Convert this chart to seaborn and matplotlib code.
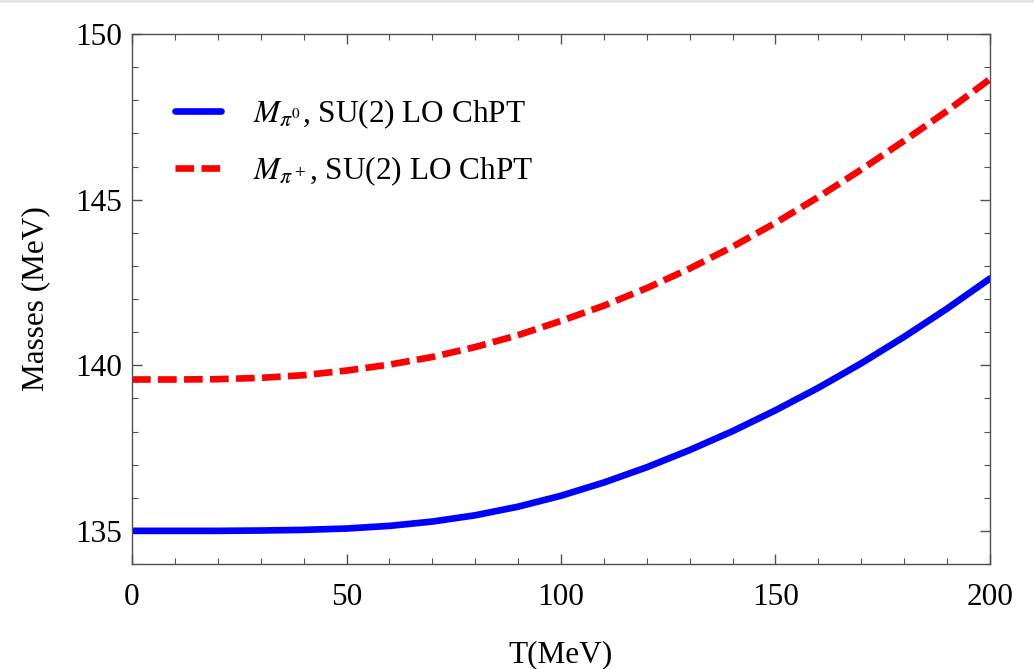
import numpy as np
import pandas as pd
import matplotlib
matplotlib.use("Agg")
import matplotlib.pyplot as plt
from matplotlib.ticker import MultipleLocator
from matplotlib.patches import Rectangle
import seaborn as sns

# temperature grid (MeV) and masses (MeV)
T = [0, 10, 20, 30, 40, 50, 60, 70, 80, 90, 100,
     110, 120, 130, 140, 150, 160, 170, 180, 190, 200]
m_pi0 = [135.00, 135.00, 135.00, 135.01, 135.03, 135.07, 135.15, 135.28, 135.47, 135.73, 136.06,
         136.46, 136.92, 137.44, 138.01, 138.64, 139.32, 140.06, 140.86, 141.71, 142.62]
m_pipm = [139.57, 139.57, 139.58, 139.62, 139.70, 139.84, 140.02, 140.25, 140.55, 140.91, 141.34,
          141.80, 142.33, 142.92, 143.58, 144.30, 145.08, 145.91, 146.78, 147.68, 148.64]

label0 = r"$M_{\pi^0}$, SU(2) LO ChPT"
label_pm = r"$M_{\pi^+}$, SU(2) LO ChPT"

sns.set_theme(style="ticks")
plt.rcParams['font.family'] = ['Liberation Serif', 'DejaVu Serif']
plt.rcParams['mathtext.fontset'] = 'stix'
plt.rcParams['text.color'] = 'black'
plt.rcParams['axes.labelcolor'] = 'black'

df = pd.DataFrame({"T": T, "m0": m_pi0, "mpm": m_pipm})

fig = plt.figure(figsize=(10.34, 6.69), dpi=100)
ax = fig.add_axes([0.1277, 0.157, 0.8297, 0.792])

sns.lineplot(data=df, x="T", y="m0", ax=ax, color=(0, 0, 1), linewidth=4.8,
             label=label0, solid_capstyle="round")
sns.lineplot(data=df, x="T", y="mpm", ax=ax, color=(1, 0, 0), linewidth=4.8,
             linestyle=(0, (2.8, 1.1)), label=label_pm)

ax.set_xlim(0, 200)
ax.set_ylim(134.0, 150)
ax.xaxis.set_major_locator(MultipleLocator(50))
ax.xaxis.set_minor_locator(MultipleLocator(10))
ax.yaxis.set_major_locator(MultipleLocator(5))
ax.yaxis.set_minor_locator(MultipleLocator(1))

edge = "#505050"
for s in ax.spines.values():
    s.set_visible(True)
    s.set_color(edge)
    s.set_linewidth(1.0)
ax.tick_params(which="both", direction="in", top=True, right=True, color=edge,
               labelsize=22.5, labelcolor="black")
ax.tick_params(which="major", length=7, width=1.0)
ax.tick_params(which="minor", length=4.5, width=0.8)
ax.tick_params(axis="x", which="major", pad=14)
ax.tick_params(axis="y", which="major", pad=7)

ax.set_xlabel("T(MeV)", fontsize=22.5, labelpad=20)
ax.set_ylabel("Masses (MeV)", fontsize=22.5, labelpad=18)

ax.legend(loc="upper left", bbox_to_anchor=(0.035, 0.905), frameon=False,
          fontsize=22.5, handlelength=1.5, handletextpad=1.0, labelspacing=0.75,
          borderaxespad=0)

# thin grey strip along the top edge of the screenshot
fig.patches.append(Rectangle((0, 1 - 3 / 669), 1, 3 / 669, transform=fig.transFigure,
                             facecolor="#e4e4e4", edgecolor="none"))

fig.savefig("out.png", dpi=100)
